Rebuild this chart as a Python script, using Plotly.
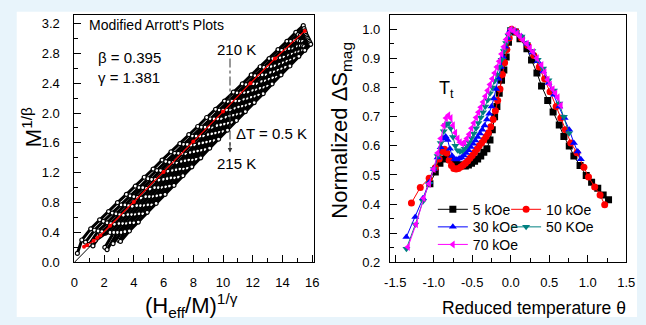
import plotly.graph_objects as go

W, H = 646, 325
FONT = "Liberation Sans, Arial, sans-serif"

# ---------------- Left panel: Modified Arrott plots (210 K ... 215 K, dT = 0.5 K) ----------------
iso_x = [
    [0.2, 0.5, 1.1, 1.7, 2.3, 2.9, 3.5, 4.1, 4.7, 5.3, 5.9, 6.5, 7.1, 7.7, 8.3, 8.9, 9.5, 10.1, 10.7, 11.3, 11.9, 12.5, 13.1, 13.7, 14.3, 14.9, 15.4],
    [0.75, 1.35, 1.95, 2.55, 3.15, 3.75, 4.35, 4.95, 5.55, 6.15, 6.75, 7.35, 7.95, 8.55, 9.15, 9.75, 10.35, 10.95, 11.55, 12.15, 12.75, 13.35, 13.95, 14.55, 15.05, 15.45],
    [1.0, 1.6, 2.2, 2.8, 3.4, 4.0, 4.6, 5.2, 5.8, 6.4, 7.0, 7.6, 8.2, 8.8, 9.4, 10.0, 10.6, 11.2, 11.8, 12.4, 13.0, 13.6, 14.2, 14.8, 15.2, 15.5],
    [1.25, 1.85, 2.45, 3.05, 3.65, 4.25, 4.85, 5.45, 6.05, 6.65, 7.25, 7.85, 8.45, 9.05, 9.65, 10.25, 10.85, 11.45, 12.05, 12.65, 13.25, 13.85, 14.45, 15.05, 15.55],
    [1.4, 2.1, 2.7, 3.3, 3.9, 4.5, 5.1, 5.7, 6.3, 6.9, 7.5, 8.1, 8.7, 9.3, 9.9, 10.5, 11.1, 11.7, 12.3, 12.9, 13.5, 14.1, 14.7, 15.2, 15.6],
    [1.75, 2.4, 3.0, 3.6, 4.2, 4.8, 5.4, 6.0, 6.6, 7.2, 7.8, 8.4, 9.0, 9.6, 10.2, 10.8, 11.4, 12.0, 12.6, 13.2, 13.8, 14.4, 15.0, 15.35, 15.65],
    [2.05, 2.65, 3.25, 3.85, 4.45, 5.05, 5.65, 6.25, 6.85, 7.45, 8.05, 8.65, 9.25, 9.85, 10.45, 11.05, 11.65, 12.25, 12.85, 13.45, 14.05, 14.65, 15.2, 15.7],
    [2.2, 2.9, 3.5, 4.1, 4.7, 5.3, 5.9, 6.5, 7.1, 7.7, 8.3, 8.9, 9.5, 10.1, 10.7, 11.3, 11.9, 12.5, 13.1, 13.7, 14.3, 14.9, 15.35, 15.75],
    [2.6, 3.15, 3.75, 4.35, 4.95, 5.55, 6.15, 6.75, 7.35, 7.95, 8.55, 9.15, 9.75, 10.35, 10.95, 11.55, 12.15, 12.75, 13.35, 13.95, 14.55, 15.1, 15.45, 15.8],
    [3.0, 3.4, 4.0, 4.6, 5.2, 5.8, 6.4, 7.0, 7.6, 8.2, 8.8, 9.4, 10.0, 10.6, 11.2, 11.8, 12.4, 13.0, 13.6, 14.2, 14.8, 15.35, 15.85],
    [3.1, 3.7, 4.3, 4.9, 5.5, 6.1, 6.7, 7.3, 7.9, 8.5, 9.1, 9.7, 10.3, 10.9, 11.5, 12.1, 12.7, 13.3, 13.9, 14.5, 15.1, 15.5, 15.9],
]
iso_y = [
    [0.12, 0.30, 0.45, 0.57, 0.68, 0.80, 0.91, 1.02, 1.14, 1.25, 1.37, 1.48, 1.59, 1.71, 1.82, 1.94, 2.05, 2.16, 2.28, 2.39, 2.51, 2.62, 2.73, 2.85, 2.96, 3.08, 3.17],
    [0.27, 0.43, 0.55, 0.66, 0.77, 0.89, 1.00, 1.12, 1.23, 1.35, 1.46, 1.58, 1.69, 1.81, 1.92, 2.04, 2.15, 2.27, 2.38, 2.50, 2.61, 2.73, 2.84, 2.96, 3.05, 3.13],
    [0.24, 0.42, 0.53, 0.65, 0.77, 0.88, 1.00, 1.11, 1.23, 1.34, 1.46, 1.58, 1.69, 1.81, 1.92, 2.04, 2.16, 2.27, 2.39, 2.50, 2.62, 2.73, 2.85, 2.97, 3.04, 3.10],
    [0.22, 0.41, 0.52, 0.64, 0.76, 0.87, 0.99, 1.11, 1.22, 1.34, 1.46, 1.57, 1.69, 1.81, 1.92, 2.04, 2.16, 2.27, 2.39, 2.51, 2.62, 2.74, 2.86, 2.97, 3.07],
    [0.29, 0.39, 0.51, 0.63, 0.75, 0.86, 0.98, 1.10, 1.22, 1.33, 1.45, 1.57, 1.69, 1.80, 1.92, 2.04, 2.16, 2.28, 2.39, 2.51, 2.63, 2.75, 2.86, 2.96, 3.04],
    [0.37, 0.40, 0.52, 0.64, 0.76, 0.88, 1.00, 1.11, 1.23, 1.35, 1.47, 1.59, 1.71, 1.83, 1.94, 2.06, 2.18, 2.30, 2.42, 2.54, 2.65, 2.77, 2.89, 2.96, 3.02],
    [0.20, 0.40, 0.52, 0.64, 0.76, 0.88, 1.00, 1.12, 1.24, 1.36, 1.48, 1.60, 1.72, 1.84, 1.96, 2.08, 2.19, 2.31, 2.43, 2.55, 2.67, 2.79, 2.90, 3.00],
    [0.17, 0.40, 0.52, 0.64, 0.76, 0.88, 1.00, 1.13, 1.25, 1.37, 1.49, 1.61, 1.73, 1.85, 1.97, 2.09, 2.21, 2.33, 2.45, 2.57, 2.69, 2.81, 2.90, 2.98],
    [0.25, 0.40, 0.53, 0.65, 0.77, 0.89, 1.01, 1.13, 1.25, 1.37, 1.50, 1.62, 1.74, 1.86, 1.98, 2.10, 2.22, 2.34, 2.47, 2.59, 2.71, 2.82, 2.89, 2.96],
    [0.29, 0.41, 0.53, 0.65, 0.77, 0.90, 1.02, 1.14, 1.26, 1.38, 1.51, 1.63, 1.75, 1.87, 1.99, 2.12, 2.24, 2.36, 2.48, 2.61, 2.73, 2.84, 2.94],
    [0.28, 0.42, 0.54, 0.67, 0.79, 0.91, 1.03, 1.16, 1.28, 1.40, 1.53, 1.65, 1.77, 1.90, 2.02, 2.14, 2.26, 2.39, 2.51, 2.63, 2.76, 2.84, 2.92],
]
tc_x = [0.65, 0.85, 1.3, 1.55, 1.75, 2.4, 4.0, 6.0, 8.0, 10.0, 11.85, 13.5, 15.5]
tc_y = [0.21, 0.23, 0.29, 0.33, 0.36, 0.49, 0.81, 1.21, 1.62, 2.02, 2.40, 2.73, 3.10]
fit_x = [0.0, 15.5]
fit_y = [0.0, 3.14]

# ---------------- Right panel: normalized entropy change vs reduced temperature ----------------
theta_5 = [-1.05, -0.98, -0.92, -0.87, -0.83, -0.79, -0.75, -0.71, -0.67, -0.63, -0.59, -0.55, -0.51, -0.47, -0.43,
           -0.39, -0.35, -0.31, -0.27, -0.24, -0.21, -0.18, -0.15, -0.12, -0.09, -0.06, -0.03, 0.00, 0.06, 0.12,
           0.21, 0.27, 0.34, 0.40, 0.48, 0.55, 0.63, 0.69, 0.76, 0.82, 0.90, 0.98, 1.05, 1.13, 1.20, 1.27]
ds_5 = [0.47, 0.51, 0.54, 0.555, 0.56, 0.553, 0.545, 0.54, 0.535, 0.532, 0.531, 0.534, 0.54, 0.547, 0.555,
        0.565, 0.578, 0.59, 0.62, 0.655, 0.70, 0.735, 0.78, 0.825, 0.86, 0.905, 0.955, 0.995, 0.99, 0.967,
        0.933, 0.894, 0.85, 0.805, 0.755, 0.716, 0.671, 0.632, 0.599, 0.565, 0.532, 0.498, 0.475, 0.454, 0.431, 0.415]

theta_10 = [-1.29, -1.175, -1.06, -0.98, -0.93, -0.89, -0.86, -0.83, -0.80, -0.77, -0.74, -0.71, -0.68, -0.65, -0.62,
            -0.59, -0.56, -0.53, -0.50, -0.47, -0.44, -0.41, -0.38, -0.35, -0.32, -0.29, -0.26, -0.23, -0.20, -0.17,
            -0.14, -0.11, -0.08, -0.05, -0.02, 0.01, 0.07, 0.14, 0.22, 0.30, 0.37, 0.44, 0.51, 0.59, 0.65,
            0.71, 0.78, 0.86, 0.95, 1.01, 1.09, 1.16, 1.22]
ds_10 = [0.404, 0.457, 0.489, 0.525, 0.555, 0.58, 0.588, 0.575, 0.55, 0.532, 0.522, 0.52, 0.522, 0.527, 0.533,
         0.54, 0.548, 0.557, 0.567, 0.577, 0.588, 0.60, 0.61, 0.62, 0.632, 0.645, 0.665, 0.69, 0.72, 0.755,
         0.795, 0.845, 0.885, 0.93, 0.97, 1.0, 0.99, 0.97, 0.945, 0.91, 0.87, 0.83, 0.785, 0.735, 0.695,
         0.655, 0.61, 0.576, 0.526, 0.493, 0.459, 0.431, 0.398]

theta_30 = [-1.356, -1.24, -1.14, -1.06, -1.00, -0.95, -0.91, -0.87, -0.845, -0.82, -0.79, -0.76, -0.73, -0.70, -0.67,
            -0.64, -0.61, -0.58, -0.55, -0.52, -0.49, -0.46, -0.43, -0.40, -0.37, -0.34, -0.31, -0.28, -0.25, -0.22,
            -0.19, -0.16, -0.13, -0.10, -0.07, -0.04, -0.01, 0.07, 0.14, 0.21, 0.28, 0.35, 0.42, 0.49, 0.56,
            0.63, 0.70, 0.76, 0.82, 0.87, 0.91]
ds_30 = [0.287, 0.356, 0.42, 0.475, 0.52, 0.56, 0.595, 0.625, 0.632, 0.62, 0.59, 0.565, 0.555, 0.553, 0.556,
         0.56, 0.567, 0.575, 0.585, 0.596, 0.607, 0.618, 0.63, 0.642, 0.655, 0.67, 0.69, 0.71, 0.735, 0.762,
         0.795, 0.83, 0.87, 0.905, 0.94, 0.97, 0.995, 0.99, 0.975, 0.95, 0.92, 0.89, 0.855, 0.815, 0.775,
         0.735, 0.695, 0.655, 0.61, 0.58, 0.554]

theta_50 = [-1.355, -1.24, -1.14, -1.06, -1.00, -0.95, -0.91, -0.87, -0.84, -0.81, -0.78, -0.75, -0.72, -0.69, -0.66,
            -0.63, -0.60, -0.57, -0.54, -0.51, -0.48, -0.45, -0.42, -0.39, -0.36, -0.33, -0.30, -0.27, -0.24, -0.21,
            -0.18, -0.15, -0.12, -0.09, -0.06, -0.03, 0.00, 0.07, 0.14, 0.21, 0.28, 0.35, 0.42, 0.49, 0.56,
            0.63, 0.69, 0.757]
ds_50 = [0.247, 0.33, 0.41, 0.47, 0.52, 0.565, 0.61, 0.65, 0.672, 0.677, 0.66, 0.63, 0.60, 0.585, 0.58,
         0.582, 0.59, 0.60, 0.612, 0.627, 0.642, 0.66, 0.678, 0.697, 0.715, 0.735, 0.757, 0.78, 0.80, 0.822,
         0.845, 0.87, 0.895, 0.925, 0.953, 0.978, 1.0, 0.99, 0.975, 0.95, 0.925, 0.895, 0.865, 0.825, 0.79,
         0.745, 0.70, 0.643]

theta_70 = [-1.335, -1.23, -1.13, -1.06, -1.00, -0.95, -0.91, -0.87, -0.84, -0.81, -0.78, -0.75, -0.72, -0.69, -0.66,
            -0.63, -0.60, -0.57, -0.54, -0.51, -0.48, -0.45, -0.42, -0.39, -0.36, -0.33, -0.30, -0.27, -0.24, -0.21,
            -0.18, -0.15, -0.12, -0.09, -0.06, -0.03, 0.00, 0.04, 0.08, 0.12, 0.16, 0.21, 0.25, 0.29, 0.34,
            0.40, 0.44, 0.48, 0.51, 0.545, 0.58, 0.61, 0.65]
ds_70 = [0.253, 0.331, 0.42, 0.47, 0.52, 0.575, 0.625, 0.67, 0.695, 0.705, 0.695, 0.67, 0.645, 0.625, 0.612,
         0.607, 0.612, 0.625, 0.64, 0.66, 0.678, 0.697, 0.715, 0.732, 0.75, 0.77, 0.79, 0.81, 0.83, 0.85,
         0.87, 0.89, 0.915, 0.94, 0.965, 0.985, 1.0, 0.995, 0.985, 0.975, 0.962, 0.95, 0.935, 0.922, 0.90,
         0.877, 0.852, 0.827, 0.81, 0.794, 0.78, 0.766, 0.738]

series_names = ["5 kOe", "10 kOe", "30 kOe", "50 KOe", "70 kOe"]
series_theta = [theta_5, theta_10, theta_30, theta_50, theta_70]
series_ds = [ds_5, ds_10, ds_30, ds_50, ds_70]
series_colors = ["#000000", "#ff0000", "#0000ff", "#008080", "#ff00ff"]
series_symbols = ["square", "circle", "triangle-up", "triangle-down", "triangle-left"]
series_legend = ["legend", "legend2", "legend3", "legend4", "legend5"]

left_xticks = [0, 2, 4, 6, 8, 10, 12, 14, 16]
left_yticks = [0.0, 0.4, 0.8, 1.2, 1.6, 2.0, 2.4, 2.8, 3.2]
left_yticktext = ["0.0", "0.4", "0.8", "1.2", "1.6", "2.0", "2.4", "2.8", "3.2"]
right_xticks = [-1.5, -1.0, -0.5, 0.0, 0.5, 1.0, 1.5]
right_xticktext = ["-1.5", "-1.0", "-0.5", "0.0", "0.5", "1.0", "1.5"]
right_yticks = [0.2, 0.3, 0.4, 0.5, 0.6, 0.7, 0.8, 0.9, 1.0]
right_yticktext = ["0.2", "0.3", "0.4", "0.5", "0.6", "0.7", "0.8", "0.9", "1.0"]


def px(p):
    return p / W


def py(p):
    return 1 - p / H


fig = go.Figure()

# left panel
fig.add_trace(go.Scatter(x=fit_x, y=fit_y, mode="lines", line=dict(color="#000000", width=1),
                         xaxis="x", yaxis="y", showlegend=False, hoverinfo="skip"))
for xs, ys in zip(iso_x, iso_y):
    fig.add_trace(go.Scatter(
        x=xs, y=ys, mode="lines+markers",
        line=dict(color="#000000", width=3),
        marker=dict(symbol="circle", size=4, color="#ffffff", line=dict(color="#000000", width=1.2)),
        xaxis="x", yaxis="y", showlegend=False))
fig.add_trace(go.Scatter(x=tc_x, y=tc_y, mode="lines+markers",
                         line=dict(color="#ff0000", width=1.2),
                         marker=dict(symbol="circle", size=4, color="#ff0000"),
                         xaxis="x", yaxis="y", showlegend=False))

# right panel
for name, t, d, c, s, lg in zip(series_names, series_theta, series_ds, series_colors, series_symbols, series_legend):
    fig.add_trace(go.Scatter(
        x=t, y=d, mode="lines+markers", name=name,
        line=dict(color=c, width=1),
        marker=dict(symbol=s, size=7, color=c, line=dict(width=0)),
        xaxis="x2", yaxis="y2", legend=lg))

tickfont = dict(family=FONT, size=13, color="#000000")
axis_common = dict(showline=True, linecolor="#000000", linewidth=1, mirror=True,
                   ticks="inside", ticklen=7, tickwidth=1, tickcolor="#000000",
                   showgrid=False, zeroline=False, tickfont=tickfont)

legend_font = dict(family=FONT, size=14, color="#000000")
legend_pos = {"legend": (437, 215), "legend2": (512, 215), "legend3": (437, 233),
              "legend4": (512, 233), "legend5": (437, 251)}
legends = {}
for key, (lx, ly) in legend_pos.items():
    legends[key] = dict(x=px(lx), y=py(ly), xanchor="left", yanchor="middle", itemwidth=30,
                        bgcolor="rgba(0,0,0,0)", font=legend_font)

ydom = [py(269), py(15)]
fig.update_layout(
    width=W, height=H,
    margin=dict(l=0, r=0, t=0, b=0),
    paper_bgcolor="#e8f4fb",
    plot_bgcolor="#ffffff",
    xaxis=dict(domain=[px(70), px(315)], range=[0, 16.1], tickvals=left_xticks,
               minor=dict(ticks="inside", ticklen=4, dtick=1, tick0=0, tickcolor="#000000"),
               ticklabelstandoff=8, anchor="y", **axis_common),
    yaxis=dict(domain=ydom, range=[0, 3.318], tickvals=left_yticks, ticktext=left_yticktext,
               minor=dict(ticks="inside", ticklen=4, dtick=0.2, tick0=0, tickcolor="#000000"),
               ticklabelstandoff=11, anchor="x", **axis_common),
    xaxis2=dict(domain=[px(393), px(635)], range=[-1.57, 1.5], tickvals=right_xticks, ticktext=right_xticktext,
                minor=dict(ticks="inside", ticklen=4, dtick=0.25, tick0=0, tickcolor="#000000"),
                ticklabelstandoff=8, anchor="y2", **axis_common),
    yaxis2=dict(domain=ydom, range=[0.2, 1.05], tickvals=right_yticks, ticktext=right_yticktext,
                minor=dict(ticks="inside", ticklen=4, dtick=0.05, tick0=0, tickcolor="#000000"),
                ticklabelstandoff=6, anchor="x2", **axis_common),
    font=dict(family=FONT, color="#000000"),
    **legends,
)

# white panel behind the figure
fig.add_shape(type="rect", xref="paper", yref="paper", x0=px(11), x1=1, y0=0, y1=py(12),
              fillcolor="#ffffff", line=dict(width=0), layer="below")

# dash-dot arrow from 210 K to 215 K
fig.add_shape(type="line", xref="x", yref="y", x0=10.47, x1=10.47, y0=2.73, y1=1.52,
              line=dict(color="#333333", width=1, dash="dashdot"))
annotations = [
    dict(x=10.47, y=1.47, xref="x", yref="y", ax=0, ay=-12, showarrow=True, arrowhead=2,
         arrowsize=0.9, arrowwidth=1, arrowcolor="#333333", text=""),
    dict(x=px(83), y=py(26), text="Modified Arrott's Plots", xanchor="left", yanchor="middle", font_size=14),
    dict(x=px(92), y=py(59), text="β = 0.395", xanchor="left", yanchor="middle", font_size=15),
    dict(x=px(92), y=py(79), text="γ = 1.381", xanchor="left", yanchor="middle", font_size=15),
    dict(x=px(236), y=py(51), text="210 K", xanchor="center", yanchor="middle", font_size=15),
    dict(x=px(233), y=py(137), text="ΔT = 0.5 K", xanchor="left", yanchor="middle", font_size=15),
    dict(x=px(236), y=py(168), text="215 K", xanchor="center", yanchor="middle", font_size=15),
    dict(x=px(26), y=py(130), text="M<sup>1/β</sup>", textangle=-90, xanchor="center", yanchor="middle", font_size=22),
    dict(x=px(190), y=py(313), text="(H<sub>eff</sub>/M)<sup>1/γ</sup>", xanchor="center", yanchor="middle", font_size=22),
    dict(x=px(343), y=py(134), text="Normalized ΔS<sub>mag</sub>", textangle=-90, xanchor="center", yanchor="middle", font_size=22),
    dict(x=px(541), y=py(316), text="Reduced temperature θ", xanchor="center", yanchor="middle", font_size=17.5),
    dict(x=px(451), y=py(92), text="T<sub>t</sub>", xanchor="center", yanchor="middle", font_size=18),
]
for a in annotations:
    a.setdefault("xref", "paper")
    a.setdefault("yref", "paper")
    a.setdefault("showarrow", False)
    fig.add_annotation(**a)

fig.write_html("out.html")
